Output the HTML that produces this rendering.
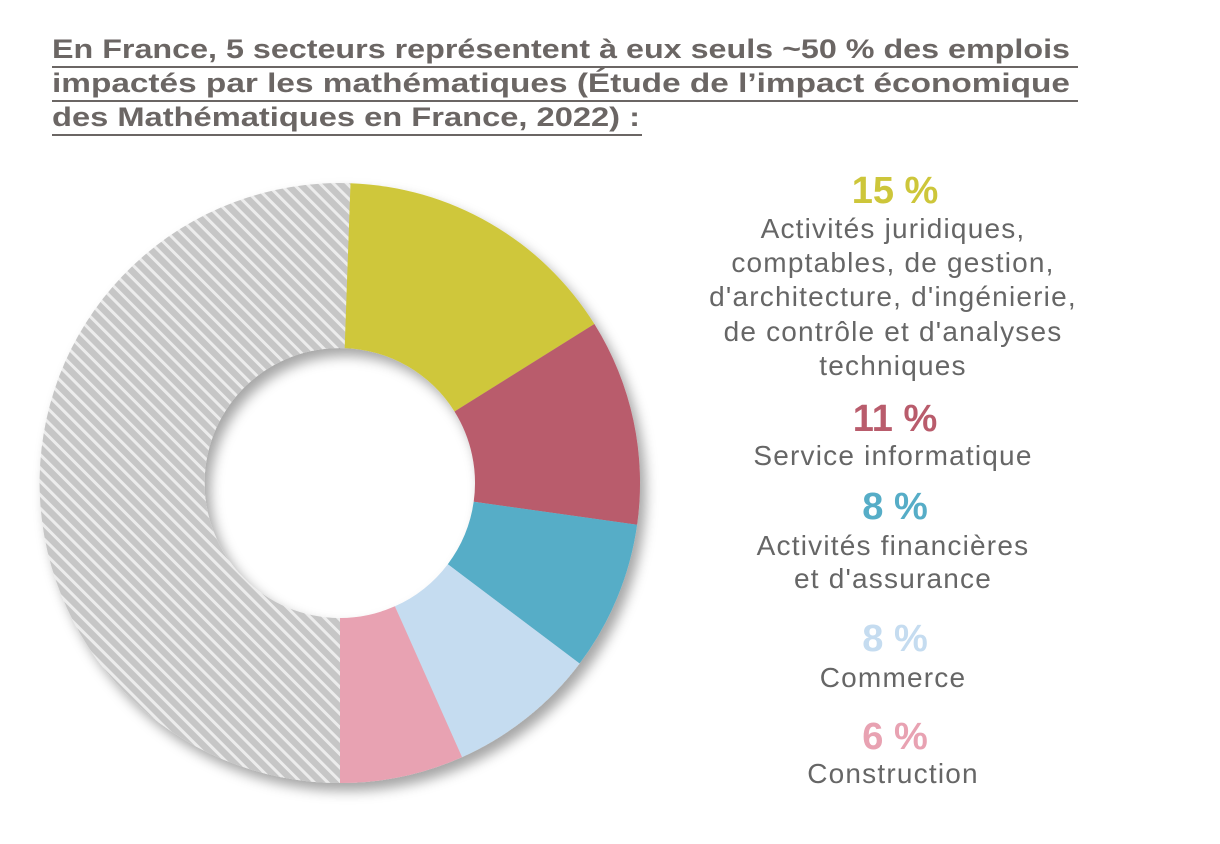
<!DOCTYPE html>
<html><head><meta charset="utf-8"><style>
html,body{margin:0;padding:0;background:#fff;}
svg{display:block;}
text{font-family:"Liberation Sans",sans-serif;}
</style></head><body>
<svg width="1220" height="844" viewBox="0 0 1220 844" xmlns="http://www.w3.org/2000/svg">
<defs>
<pattern id="h" patternUnits="userSpaceOnUse" width="9.5" height="9.5" patternTransform="rotate(-45)">
<rect width="9.5" height="9.5" fill="#c6c6c6"/><rect width="3" height="9.5" fill="#ececec"/>
</pattern>
<filter id="sh" x="-20%" y="-20%" width="140%" height="140%">
<feDropShadow dx="6" dy="8" stdDeviation="6" flood-color="#000" flood-opacity="0.35"/>
</filter>
</defs>
<g font-weight="bold" font-size="27" fill="#6b6664">
<text x="52" y="58" textLength="1018" lengthAdjust="spacingAndGlyphs">En France, 5 secteurs représentent à eux seuls ~50 % des emplois</text>
<text x="52" y="92" textLength="1018" lengthAdjust="spacingAndGlyphs">impactés par les mathématiques  (Étude de l’impact économique</text>
<text x="52" y="126" textLength="588" lengthAdjust="spacingAndGlyphs">des Mathématiques en France, 2022) :</text>
</g>
<g fill="#6b6664">
<rect x="52" y="66" width="1026" height="2"/>
<rect x="52" y="100" width="1026" height="2"/>
<rect x="52" y="134" width="590" height="2"/>
</g>
<g filter="url(#sh)">
<path d="M340,783 A300,300 0 1 1 350.5,183.2 L344.7,348.1 A135,135 0 1 0 340,618 Z" fill="url(#h)"/>
<path d="M350.5,183.2 A300,300 0 0 1 594.4,324.0 L454.5,411.5 A135,135 0 0 0 344.7,348.1 Z" fill="#cfc73a"/>
<path d="M594.4,324.0 A300,300 0 0 1 637.1,524.8 L473.7,501.8 A135,135 0 0 0 454.5,411.5 Z" fill="#b95c6c"/>
<path d="M637.1,524.8 A300,300 0 0 1 579.6,663.5 L447.8,564.2 A135,135 0 0 0 473.7,501.8 Z" fill="#56adc7"/>
<path d="M579.6,663.5 A300,300 0 0 1 462.0,757.1 L394.9,606.3 A135,135 0 0 0 447.8,564.2 Z" fill="#c5dcf0"/>
<path d="M462.0,757.1 A300,300 0 0 1 340,783 L340,618 A135,135 0 0 0 394.9,606.3 Z" fill="#e8a2b2"/>
</g>
<g text-anchor="middle">
<text x="895" y="203" font-size="38" font-weight="bold" fill="#cdc63a">15 %</text>
<g font-size="28" fill="#666" letter-spacing="1.2">
<text x="893" y="238">Activités juridiques,</text>
<text x="893" y="272">comptables, de gestion,</text>
<text x="893" y="306">d'architecture, d'ingénierie,</text>
<text x="893" y="341">de contrôle et d'analyses</text>
<text x="893" y="375">techniques</text>
<text x="893" y="465">Service informatique</text>
<text x="893" y="555">Activités financières</text>
<text x="893" y="588">et d'assurance</text>
<text x="893" y="687">Commerce</text>
<text x="893" y="783">Construction</text>
</g>
<text x="895" y="431" font-size="38" font-weight="bold" fill="#b95c6c">11 %</text>
<text x="895" y="519" font-size="38" font-weight="bold" fill="#56adc7">8 %</text>
<text x="895" y="651" font-size="38" font-weight="bold" fill="#c5dcf0">8 %</text>
<text x="895" y="749" font-size="38" font-weight="bold" fill="#e8a2b2">6 %</text>
</g>
</svg>
</body></html>
